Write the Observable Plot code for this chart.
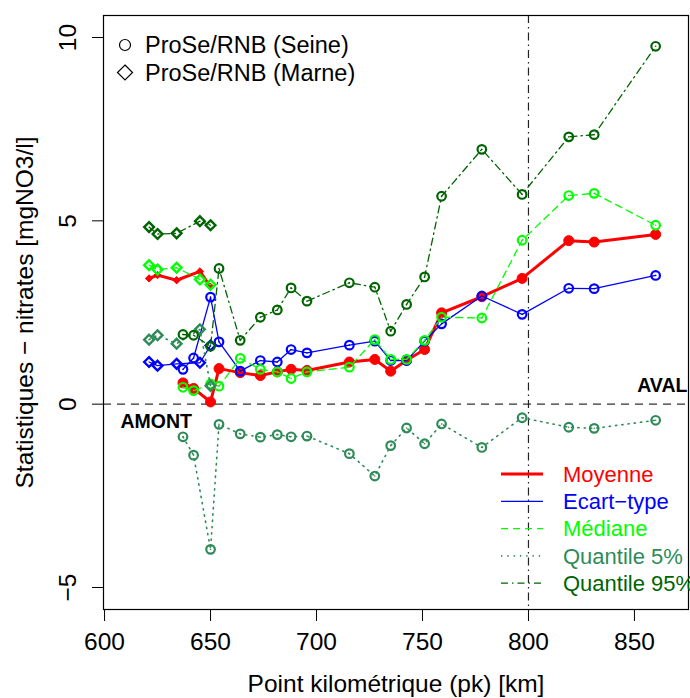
<!DOCTYPE html>
<html><head><meta charset="utf-8">
<script src="https://cdn.jsdelivr.net/npm/d3@7"></script>
<script src="https://cdn.jsdelivr.net/npm/@observablehq/plot@0.6"></script>
<style>
body{margin:0;background:#fff;}
#wrap{position:relative;width:690px;height:698px;font-family:"Liberation Sans",Arial,sans-serif;}
#wrap svg.overlay{position:absolute;left:0;top:0;pointer-events:none;}
</style></head><body><div id="wrap"></div>
<script>
// ---- Seine (circles)
const seinePk   = [637, 642, 650, 654, 664, 673.5, 681.5, 688, 695.5, 715.5, 727.5, 735, 742.5, 751, 759, 778, 797, 819, 831, 860];
const seineMoy  = [0.58, 0.43, 0.06, 0.97, 0.86, 0.78, 0.88, 0.95, 0.92, 1.15, 1.22, 0.90, 1.20, 1.49, 2.49, 2.93, 3.43, 4.46, 4.42, 4.63];
const seineSd   = [0.95, 1.26, 2.92, 1.70, 0.90, 1.19, 1.15, 1.49, 1.40, 1.61, 1.72, 1.19, 1.19, 1.72, 2.19, 2.95, 2.45, 3.16, 3.15, 3.51];
const seineMed  = [0.46, 0.37, 0.55, 0.49, 1.25, 0.95, 0.88, 0.70, 0.88, 1.01, 1.76, 1.22, 1.22, 1.74, 2.37, 2.35, 4.47, 5.69, 5.75, 4.88];
const seineQ5   = [-0.89, -1.39, -3.96, -0.55, -0.81, -0.90, -0.83, -0.89, -0.87, -1.35, -1.96, -1.13, -0.65, -1.08, -0.54, -1.18, -0.37, -0.63, -0.66, -0.44];
const seineQ95  = [1.90, 1.88, 1.58, 3.70, 1.74, 2.37, 2.57, 3.17, 2.81, 3.31, 3.19, 1.99, 2.72, 3.47, 5.67, 6.95, 5.72, 7.29, 7.35, 9.76];
// ---- Marne (diamonds)
const marnePk   = [621, 625, 634, 645, 650];
const marneMoy  = [3.43, 3.52, 3.38, 3.62, 3.20];
const marneSd   = [1.15, 1.05, 1.10, 1.13, 1.60];
const marneMed  = [3.79, 3.67, 3.72, 3.40, 3.26];
const marneQ5   = [1.76, 1.88, 1.65, 2.04, 0.50];
const marneQ95  = [4.83, 4.64, 4.66, 4.99, 4.88];

const xTicks = [600, 650, 700, 750, 800, 850];
const yTicks = [-5, 0, 5, 10];
const statLabels = ["Moyenne", "Ecart−type", "Médiane", "Quantile 5%", "Quantile 95%"];
const riverLabels = ["ProSe/RNB (Seine)", "ProSe/RNB (Marne)"];
const xLabel = "Point kilométrique (pk) [km]";
const yLabel = "Statistiques − nitrates [mgNO3/l]";
const refPk = 800;

const styles = [
  {color: "#FF0000", width: 3,   dash: null,        filled: true},
  {color: "#0000FF", width: 1.3, dash: null,        filled: false},
  {color: "#00FF00", width: 1.3, dash: "7,5",       filled: false},
  {color: "#2E8B57", width: 1.6, dash: "1.3,5",     filled: false},
  {color: "#006400", width: 1.3, dash: "7,4,1.5,4", filled: false}
];
const seineVals = [seineMoy, seineSd, seineMed, seineQ5, seineQ95];
const marneVals = [marneMoy, marneSd, marneMed, marneQ5, marneQ95];

const marks = [
  Plot.ruleY([0], {stroke: "#333", strokeWidth: 1.3, strokeDasharray: "8,6"}),
  Plot.ruleX([refPk], {stroke: "#222", strokeWidth: 1.2, strokeDasharray: "8,4,1.5,4"})
];

statLabels.forEach((lab, i) => {
  const st = styles[i];
  const S = seinePk.map((pk, j) => ({pk, v: seineVals[i][j]}));
  const M = marnePk.map((pk, j) => ({pk, v: marneVals[i][j]}));
  const lineOpts = {x: "pk", y: "v", stroke: st.color, strokeWidth: st.width, strokeDasharray: st.dash || undefined};
  marks.push(Plot.line(M, lineOpts));
  marks.push(Plot.line(S, lineOpts));
  if (st.filled) {
    marks.push(Plot.dot(M, {x: "pk", y: "v", symbol: "diamond2", r: 3.3, fill: st.color, stroke: st.color, strokeWidth: 1}));
    marks.push(Plot.dot(S, {x: "pk", y: "v", symbol: "circle", r: 5, fill: st.color, stroke: st.color, strokeWidth: 1}));
  } else {
    marks.push(Plot.dot(M, {x: "pk", y: "v", symbol: "diamond2", r: 4.4, fill: "none", stroke: st.color, strokeWidth: 2.4}));
    marks.push(Plot.dot(S, {x: "pk", y: "v", symbol: "circle", r: 4.3, fill: "none", stroke: st.color, strokeWidth: 2.2}));
    marks.push(Plot.dot(S, {x: "pk", y: "v", r: 0.8, fill: st.color, stroke: null}));
  }
});

marks.push(
  Plot.text(["AMONT"], {x: () => 607.5, y: () => -0.47, text: d => d, textAnchor: "start", fontWeight: "bold", fontSize: 19.5, fill: "#000"}),
  Plot.text(["AVAL"], {x: () => 875, y: () => 0.5, text: d => d, textAnchor: "end", fontWeight: "bold", fontSize: 19.5, fill: "#000"}),
  Plot.frame({stroke: "#000", strokeWidth: 1.2}),
  Plot.axisX({ticks: xTicks, tickSize: 12, tickPadding: 11, fontSize: 24.5, label: null, tickFormat: d => String(d)}),
  Plot.axisY({ticks: yTicks, tickSize: 11, tickPadding: 17, tickRotate: -90, fontSize: 24.5, label: null, tickFormat: d => (d < 0 ? "−" + Math.abs(d) : String(d))}),
  Plot.text([xLabel], {frameAnchor: "bottom", dy: 82, textAnchor: "middle", text: d => d, fontSize: 24.5, fill: "#000"}),
  Plot.text([yLabel], {frameAnchor: "left", dx: -78, rotate: -90, textAnchor: "middle", text: d => d, fontSize: 24.5, fill: "#000"})
);

const chart = Plot.plot({
  width: 690, height: 698,
  marginLeft: 103, marginRight: 2, marginTop: 15, marginBottom: 89,
  x: {domain: [599.5, 875.5]},
  y: {domain: [-5.6, 10.6]},
  style: {fontFamily: "Liberation Sans, Arial, sans-serif", color: "#000", background: "#fff", overflow: "visible"},
  marks
});
const wrap = document.getElementById("wrap");
wrap.appendChild(chart);

// ---- legends (overlay)
const ov = d3.select(wrap).append("svg").attr("class", "overlay").attr("width", 690).attr("height", 698)
  .style("font-family", "Liberation Sans, Arial, sans-serif");
// top-left: symbol legend
ov.append("circle").attr("cx", 125).attr("cy", 45).attr("r", 5.5).attr("fill", "none").attr("stroke", "#000").attr("stroke-width", 1.2);
ov.append("path").attr("d", "M125,65 L132.5,72.5 L125,80 L117.5,72.5 Z").attr("fill", "none").attr("stroke", "#000").attr("stroke-width", 1.2);
riverLabels.forEach((t, i) => {
  ov.append("text").attr("x", 145).attr("y", 45 + i * 28).attr("dy", "0.35em").attr("font-size", 23.5).attr("fill", "#000").text(t);
});
// right: line-style legend
statLabels.forEach((t, i) => {
  const st = styles[i];
  const yy = 474 + i * 27.3;
  const ln = ov.append("line").attr("x1", 501).attr("x2", 543).attr("y1", yy).attr("y2", yy)
    .attr("stroke", st.color).attr("stroke-width", st.width);
  if (st.dash) ln.attr("stroke-dasharray", st.dash);
  ov.append("text").attr("x", 563).attr("y", yy).attr("dy", "0.35em").attr("font-size", 22).attr("fill", st.color).text(t);
});
</script></body></html>
